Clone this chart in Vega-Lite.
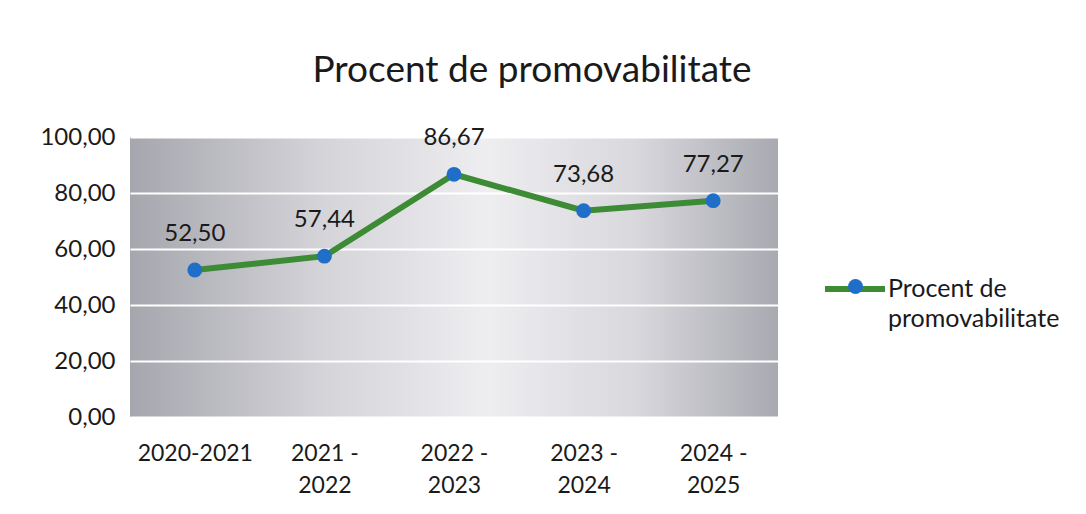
{
  "$schema": "https://vega.github.io/schema/vega-lite/v6.json",
  "width": 648,
  "height": 280,
  "autosize": "none",
  "padding": {"left": 130, "top": 137, "right": 308, "bottom": 97},
  "background": "white",
  "title": {
    "text": "Procent de promovabilitate",
    "font": "Lato",
    "fontSize": 37,
    "fontWeight": "normal",
    "color": "#1a1a1a",
    "anchor": "middle",
    "dx": 78,
    "offset": 6,
    "baseline": "alphabetic"
  },
  "config": {
    "font": "Lato",
    "locale": {"number": {"decimal": ",", "thousands": ".", "grouping": [3], "currency": ["", " €"]}},
    "view": {
      "stroke": null,
      "fill": {
        "gradient": "linear",
        "x1": 0, "y1": 0, "x2": 1, "y2": 0,
        "stops": [
          {"offset": 0, "color": "#a6a6ae"},
          {"offset": 0.3, "color": "#d4d4d9"},
          {"offset": 0.55, "color": "#eeeef1"},
          {"offset": 0.78, "color": "#d8d8dd"},
          {"offset": 1, "color": "#a9a9b1"}
        ]
      }
    }
  },
  "data": {
    "values": [
      {"an": "2020-2021", "procent": 52.50},
      {"an": "2021 - 2022", "procent": 57.44},
      {"an": "2022 - 2023", "procent": 86.67},
      {"an": "2023 - 2024", "procent": 73.68},
      {"an": "2024 - 2025", "procent": 77.27}
    ]
  },
  "encoding": {
    "x": {
      "field": "an",
      "type": "ordinal",
      "sort": null,
      "scale": {"type": "point", "padding": 0.5},
      "axis": {
        "title": null,
        "labelAngle": 0,
        "domain": false,
        "ticks": false,
        "grid": false,
        "labelFontSize": 23,
        "labelColor": "#1a1a1a",
        "labelPadding": 25,
        "labelLineHeight": 32,
        "labelBaseline": "top",
        "labelExpr": "indexof(datum.label, ' - ') > 0 ? [split(datum.label, ' - ')[0] + ' -', split(datum.label, ' - ')[1]] : datum.label"
      }
    },
    "y": {
      "field": "procent",
      "type": "quantitative",
      "scale": {"domain": [0, 100], "nice": false},
      "axis": {
        "title": null,
        "values": [0, 20, 40, 60, 80, 100],
        "format": ".2f",
        "domain": false,
        "ticks": false,
        "grid": true,
        "gridColor": "#ffffff",
        "gridWidth": 2,
        "labelFontSize": 24,
        "labelColor": "#1a1a1a",
        "labelPadding": 15
      }
    }
  },
  "layer": [
    {
      "mark": {"type": "line", "strokeWidth": 6, "strokeCap": "butt", "strokeJoin": "miter"},
      "encoding": {
        "stroke": {
          "datum": "Procent de promovabilitate",
          "scale": {"range": ["#3e8b36"]},
          "legend": {
            "orient": "none",
            "legendX": 692,
            "legendY": 119,
            "title": null,
            "padding": 0,
            "symbolType": "stroke",
            "symbolSize": 3600,
            "symbolStrokeWidth": 6,
            "labelFontSize": 25,
            "labelColor": "#1a1a1a",
            "labelLimit": 300,
            "labelOffset": 0,
            "labelExpr": "['Procent de', 'promovabilitate']",
            "encode": {"labels": {"update": {"lineHeight": {"value": 30}}}}
          }
        }
      }
    },
    {
      "mark": {"type": "point", "filled": true, "size": 220, "opacity": 1, "strokeWidth": 0},
      "encoding": {
        "fill": {
          "datum": "punct",
          "scale": {"range": ["#1f6fc8"]},
          "legend": {
            "orient": "none",
            "legendX": 718,
            "legendY": 142,
            "title": null,
            "padding": 0,
            "symbolType": "circle",
            "symbolSize": 220,
            "symbolStrokeWidth": 0,
            "labelOpacity": 0,
            "labelExpr": "''"
          }
        }
      }
    },
    {
      "mark": {"type": "text", "dy": -36, "fontSize": 24, "color": "#1a1a1a", "baseline": "middle"},
      "encoding": {
        "text": {"field": "procent", "type": "quantitative", "format": ".2f"}
      }
    }
  ]
}
